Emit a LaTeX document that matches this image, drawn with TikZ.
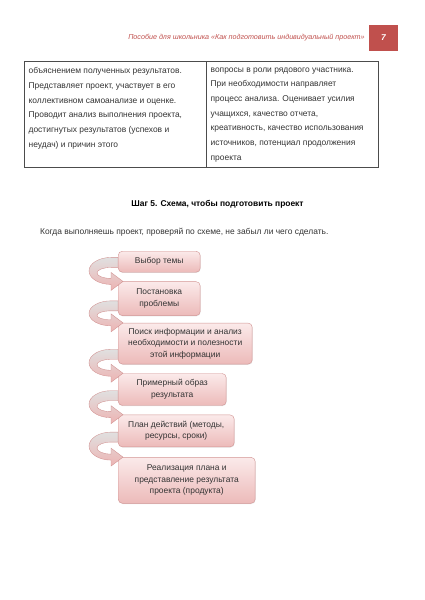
\documentclass[tikz,border=0pt]{standalone}
\usepackage{fontspec}
\setmainfont{Liberation Sans}
\usetikzlibrary{positioning, calc, shadows}
\definecolor{headred}{HTML}{C0504D}
\definecolor{bodytext}{HTML}{333333}
\definecolor{boxtop}{HTML}{FBEAEA}
\definecolor{boxbot}{HTML}{ECBAB9}
\definecolor{boxline}{HTML}{D39594}
\definecolor{bandtop}{HTML}{E0E0E0}
\definecolor{bandbot}{HTML}{EDB3B2}
\definecolor{bandline}{HTML}{D0908F}
\tikzset{
  stepbox/.style={
    rectangle,
    rounded corners=6pt,
    draw=boxline,
    line width=0.6pt,
    top color=boxtop,
    bottom color=boxbot,
    text=bodytext,
    align=center,
    inner sep=0pt,
    font=\fontsize{12}{16.5}\selectfont,
    drop shadow={opacity=0.2, shadow xshift=0.6pt, shadow yshift=-1pt}
  },
  loop arrow/.style={
    draw=bandline,
    line width=0.5pt,
    top color=bandtop,
    bottom color=bandbot
  },
  cell text/.style={
    anchor=north west,
    align=left,
    inner sep=0pt,
    text=bodytext,
    font=\fontsize{12}{20.9}\selectfont
  },
  table line/.style={
    draw=black!70,
    line width=0.7pt
  }
}
% curved arrow on the left, from the bottom of one step to the top of the next
\newcommand{\looparrow}[2]{%
  \path[loop arrow] let \p1=(#1.south west), \p2=(#2.north west),
      \n1={(\y1+0.5cm-\y2)/2}, \n2={(\y1+0.5cm+\y2)/2}
    in (\x1,{\n2+\n1+0.25cm}) -- ({\x1-0.35cm},{\n2+\n1+0.25cm})
       arc[start angle=90, end angle=270, x radius=1.1cm, y radius={\n1+0.2cm}]
       -- ({\x1-0.35cm},{\y2-0.45cm}) -- ({\x1+0.25cm},\y2) -- ({\x1-0.35cm},{\y2+0.45cm})
       -- ({\x1-0.35cm},{\y2+0.15cm})
       arc[start angle=270, end angle=90, x radius=0.7cm, y radius={\n1-0.2cm}]
       -- (\x1,{\n2+\n1-0.25cm}) -- cycle;}

\begin{document}
\begin{tikzpicture}[x=0.05cm, y=0.05cm]
  \useasboundingbox (0,0) rectangle (424,-600);

  %% ---- header ----
  \node[rectangle, fill=headred, text=white, minimum width=1.45cm, minimum height=1.3cm,
        font=\fontsize{12}{14}\selectfont\bfseries\itshape] (pagenum) at (383.5,-37.5) {7};
  \node[left=0.2cm of pagenum, inner sep=0pt, text=headred,
        font=\fontsize{10.2}{12}\selectfont\itshape] (header)
    {Пособие для школьника «Как подготовить индивидуальный проект»};

  %% ---- table ----
  \draw[table line] (24.5,-61) rectangle (378,-167);
  \draw[table line] (206,-61) -- (206,-167);
  \node[cell text] (leftcell) at (28.5,-67.5) {объяснением полученных результатов.\\
    Представляет проект, участвует в его\\
    коллективном самоанализе и оценке.\\
    Проводит анализ выполнения проекта,\\
    достигнутых результатов (успехов и\\
    неудач) и причин этого};
  \node[cell text] (rightcell) at (210.5,-67.5) {вопросы в роли рядового участника.\\
    При необходимости направляет\\
    процесс анализа. Оценивает усилия\\
    учащихся, качество отчета,\\
    креативность, качество использования\\
    источников, потенциал продолжения\\
    проекта};

  %% ---- step 5 ----
  \node[text=black, font=\fontsize{12}{14}\selectfont\bfseries] (title) at (217.5,-204.5)
    {Шаг 5. Схема, чтобы подготовить проект};
  \node[anchor=west, inner sep=0pt, text=bodytext, font=\fontsize{12}{14}\selectfont] (intro) at (40,-232)
    {Когда выполняешь проект, проверяй по схеме, не забыл ли чего сделать.};

  %% ---- scheme ----
  \node[stepbox, anchor=north west, minimum width=4.1cm, minimum height=1.05cm] (s1) at (118,-251)
    {Выбор темы};
  \node[stepbox, below right=0.45cm and 0cm of s1.south west, minimum width=4.1cm, minimum height=1.7cm] (s2)
    {Постановка\\проблемы};
  \node[stepbox, below right=0.35cm and 0cm of s2.south west, minimum width=6.7cm, minimum height=2.05cm] (s3)
    {Поиск информации и анализ\\необходимости и полезности\\этой информации};
  \node[stepbox, below right=0.45cm and 0cm of s3.south west, minimum width=5.4cm, minimum height=1.6cm] (s4)
    {Примерный образ\\результата};
  \node[stepbox, below right=0.45cm and 0cm of s4.south west, minimum width=5.8cm, minimum height=1.6cm] (s5)
    {План действий (методы,\\ресурсы, сроки)};
  \node[stepbox, below right=0.5cm and 0cm of s5.south west, minimum width=6.85cm, minimum height=2.3cm] (s6)
    {Реализация плана и\\представление результата\\проекта (продукта)};

  \looparrow{s1}{s2}
  \looparrow{s2}{s3}
  \looparrow{s3}{s4}
  \looparrow{s4}{s5}
  \looparrow{s5}{s6}
\end{tikzpicture}
\end{document}
